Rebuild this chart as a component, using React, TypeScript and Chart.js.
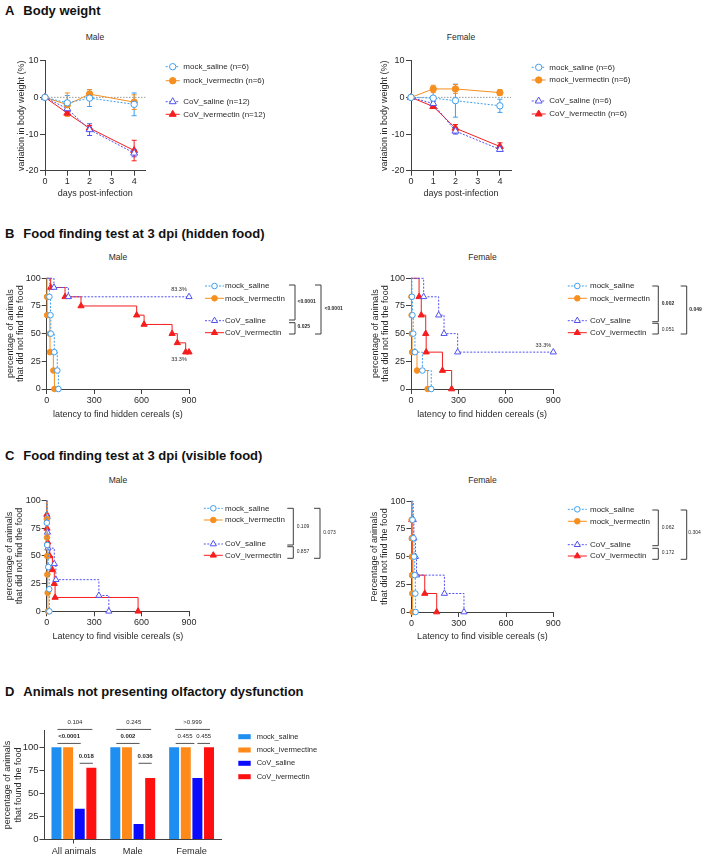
import React, { useEffect, useRef } from 'react';
import { Chart, registerables } from 'chart.js';

Chart.register(...registerables);

const FONT = '"Liberation Sans", Arial, Helvetica, sans-serif';
const AXIS = '#404040';
const INK = '#2a2a2a';

// ---------------- Panel A: body weight ----------------
const bwDays = [0, 1, 2, 4];
const bwDayTicks = [0, 1, 2, 3, 4];
const bwValueTicks = [-20, -10, 0, 10];

const bwMaleMockSaline = [0, -1.5, -0.2, -1.9];
const bwMaleMockSalineErr = [0, 2.0, 2.3, 3.1];
const bwMaleMockIver = [0, -2.0, 0.9, -1.3];
const bwMaleMockIverErr = [0, 3.2, 1.2, 2.0];
const bwMaleCovSaline = [0, -3.1, -8.8, -15.2];
const bwMaleCovSalineErr = [0, 0.6, 1.6, 1.0];
const bwMaleCovIver = [0, -4.3, -8.4, -14.5];
const bwMaleCovIverErr = [0, 0.5, 0.7, 2.8];

const bwFemaleMockSaline = [0, -0.2, -0.9, -2.3];
const bwFemaleMockSalineErr = [0, 2.5, 4.5, 1.8];
const bwFemaleMockIver = [0, 2.3, 2.3, 1.3];
const bwFemaleMockIverErr = [0, 1.0, 1.2, 0.8];
const bwFemaleCovSaline = [0, -1.7, -9.2, -14.2];
const bwFemaleCovSalineErr = [0, 0.6, 0.8, 0.5];
const bwFemaleCovIver = [0, -2.5, -8.4, -13.4];
const bwFemaleCovIverErr = [0, 0.4, 1.0, 1.0];

const bwMaleLegend = ['mock_saline (n=6)', 'mock_ivermectin (n=6)', 'CoV_saline (n=12)', 'CoV_ivermectin (n=12)'];
const bwFemaleLegend = ['mock_saline (n=6)', 'mock_ivermectin (n=6)', 'CoV_saline (n=6)', 'CoV_ivermectin (n=6)'];

// ---------------- Panels B and C: Kaplan-Meier curves ----------------
const kmTimeTicks = [0, 300, 600, 900];
const kmPctTicks = [0, 25, 50, 75, 100];
const kmLegend = ['mock_saline', 'mock_ivermectin', 'CoV_saline', 'CoV_ivermectin'];

// B male (hidden food)
const hidMaleMockSalineT = [0, 17, 24, 26, 48, 67, 74];
const hidMaleMockSalineS = [100, 83.3, 66.7, 50, 33.3, 16.7, 0];
const hidMaleMockIverT = [0, 2, 3, 20, 21, 42, 49];
const hidMaleMockIverS = [100, 83.3, 66.7, 50, 33.3, 16.7, 0];
const hidMaleCovSalineT = [0, 46, 137, 900];
const hidMaleCovSalineS = [100, 91.7, 83.3, 83.3];
const hidMaleCovIverT = [0, 25, 116, 217, 569, 616, 793, 826, 879, 900];
const hidMaleCovIverS = [100, 91.7, 83.3, 75, 66.7, 58.3, 50, 41.7, 33.3, 33.3];
const hidMaleP = ['<0.0001', '0.025', '<0.0001'];

// B female (hidden food)
const hidFemMockSalineT = [0, 6, 9, 14, 25, 72, 128];
const hidFemMockSalineS = [100, 83.3, 66.7, 50, 33.3, 16.7, 0];
const hidFemMockIverT = [0, 3, 4, 5, 7, 38, 105];
const hidFemMockIverS = [100, 83.3, 66.7, 50, 33.3, 16.7, 0];
const hidFemCovSalineT = [0, 80, 175, 209, 295, 900];
const hidFemCovSalineS = [100, 83.3, 66.7, 50, 33.3, 33.3];
const hidFemCovIverT = [0, 51, 65, 93, 96, 199, 257];
const hidFemCovIverS = [100, 83.3, 66.7, 50, 33.3, 16.7, 0];
const hidFemP = ['0.002', '0.051', '0.049'];

// C male (visible food)
const visMaleMockSalineT = [0, 1, 3, 10, 16, 17];
const visMaleMockSalineS = [100, 80, 60, 40, 20, 0];
const visMaleMockIverT = [0, 1, 2, 3, 4, 6, 8];
const visMaleMockIverS = [100, 83.3, 66.7, 50, 33.3, 16.7, 0];
const visMaleCovSalineT = [0, 3, 5, 8, 48, 58, 330, 393];
const visMaleCovSalineS = [100, 85.7, 71.4, 57.1, 42.9, 28.6, 14.3, 0];
const visMaleCovIverT = [0, 1, 2, 6, 19, 36, 48, 53, 578];
const visMaleCovIverS = [100, 87.5, 75, 62.5, 50, 37.5, 25, 12.5, 0];
const visMaleP = ['0.109', '0.857', '0.073'];

// C female (visible food)
const visFemMockSalineT = [0, 6, 12, 16, 20, 24, 26];
const visFemMockSalineS = [100, 83.3, 66.7, 50, 33.3, 16.7, 0];
const visFemMockIverT = [0, 1, 2, 3, 4, 5, 7];
const visFemMockIverS = [100, 83.3, 66.7, 50, 33.3, 16.7, 0];
const visFemCovSalineT = [0, 11, 15, 25, 32, 209, 333];
const visFemCovSalineS = [100, 83.3, 66.7, 50, 33.3, 16.7, 0];
const visFemCovIverT = [0, 2, 4, 6, 8, 84, 160];
const visFemCovIverS = [100, 83.3, 66.7, 50, 33.3, 16.7, 0];
const visFemP = ['0.062', '0.172', '0.304'];

// ---------------- Panel D: bars ----------------
const dCategories = ['All animals', 'Male', 'Female'];
const dLegend = ['mock_saline', 'mock_ivermectine', 'CoV_saline', 'CoV_ivermectin'];
const dMockSaline = [100, 100, 100];
const dMockIver = [100, 100, 100];
const dCovSaline = [33.3, 16.7, 66.7];
const dCovIver = [77.8, 66.7, 100];
const dValueTicks = [0, 25, 50, 75, 100];
const dSigTop = ['0.104', '0.245', '>0.999'];
const dSigMid = ['<0.0001', '0.002', '0.455'];
const dSigLow = ['0.018', '0.036', '0.455'];

// ---------------- styles ----------------
const STYLES = [
  { color: '#3f9ff0', point: 'circle', hollow: true, dash: [2, 1.5] },
  { color: '#f68f1f', point: 'circle', hollow: false, dash: [] as number[] },
  { color: '#5252f0', point: 'triangle', hollow: true, dash: [2, 1.5] },
  { color: '#f51d1d', point: 'triangle', hollow: false, dash: [] as number[] },
];
const BAR_COLORS = ['#1f8ef1', '#ff8a1a', '#0a0aff', '#ff1010'];

type Box = { cl: number; ct: number; cw: number; ch: number; L: number; T: number; R: number; B: number };

function padFor(b: Box, yW: number, xH: number) {
  return { left: b.L - b.cl - yW, top: b.T - b.ct, right: b.cl + b.cw - b.R, bottom: b.ct + b.ch - b.B - xH };
}
const setTicks = (vals: number[]) => (s: any) => {
  s.ticks = vals.map((v) => ({ value: v }));
};
const axisBase = (tl: number) => ({
  border: { display: true, color: AXIS, width: 1 },
  grid: { display: true, drawOnChartArea: false, drawTicks: true, tickLength: tl, color: AXIS, lineWidth: 1 },
});

function drawMarker(ctx: CanvasRenderingContext2D, st: any, x: number, y: number, rc: number, rt: number) {
  ctx.beginPath();
  if (st.point === 'circle') {
    ctx.arc(x, y, rc, 0, Math.PI * 2);
  } else {
    ctx.moveTo(x, y - rt);
    ctx.lineTo(x + rt * 0.866, y + rt * 0.5);
    ctx.lineTo(x - rt * 0.866, y + rt * 0.5);
    ctx.closePath();
  }
  ctx.fillStyle = st.hollow ? '#ffffff' : st.color;
  ctx.fill();
  ctx.strokeStyle = st.color;
  ctx.lineWidth = 1;
  ctx.stroke();
}

function drawLegend(ctx: CanvasRenderingContext2D, box: Box, labels: string[], mx: number, tx: number, ys: number[], half: number, rc: number, rt: number, size: number) {
  labels.forEach((lab, i) => {
    const st = STYLES[i];
    const x = mx - box.cl;
    const y = ys[i] - box.ct;
    ctx.save();
    ctx.strokeStyle = st.color;
    ctx.lineWidth = 1;
    ctx.setLineDash(st.dash);
    ctx.beginPath();
    ctx.moveTo(x - half, y);
    ctx.lineTo(x + half, y);
    ctx.stroke();
    ctx.setLineDash([]);
    drawMarker(ctx, st, x, y, rc, rt);
    ctx.fillStyle = INK;
    ctx.font = `${size}px ${FONT}`;
    ctx.textBaseline = 'middle';
    ctx.textAlign = 'left';
    ctx.fillText(lab, tx - box.cl, y);
    ctx.restore();
  });
}

type Bracket = { x: number; y1: number; y2: number; w: number; label: string; lx: number; ly: number; bold: boolean };

function drawBrackets(ctx: CanvasRenderingContext2D, box: Box, br: Bracket[]) {
  ctx.save();
  br.forEach((b) => {
    const x = b.x - box.cl;
    ctx.strokeStyle = '#3c3c3c';
    ctx.lineWidth = 1;
    ctx.beginPath();
    ctx.moveTo(x - b.w, b.y1 - box.ct);
    ctx.lineTo(x, b.y1 - box.ct);
    ctx.lineTo(x, b.y2 - box.ct);
    ctx.lineTo(x - b.w, b.y2 - box.ct);
    ctx.stroke();
    ctx.fillStyle = INK;
    ctx.font = `${b.bold ? 'bold ' : ''}5px ${FONT}`;
    ctx.textAlign = 'left';
    ctx.textBaseline = 'middle';
    ctx.fillText(b.label, b.lx - box.cl, b.ly - box.ct);
  });
  ctx.restore();
}

// ---------------- chart config builders ----------------
function bodyWeightConfig(box: Box, series: number[][], errs: number[][], labels: string[], leg: { mx: number; tx: number; ys: number[] }, yTitleX: number, xTitleY: number) {
  const lh = 10.8;
  const yW = box.L - box.cl;
  const xH = xTitleY + lh / 2 - box.B;
  return {
    type: 'line',
    data: {
      datasets: series.map((vals, i) => ({
        label: labels[i],
        data: bwDays.map((d, j) => ({ x: d, y: vals[j] })),
        borderColor: STYLES[i].color,
        borderWidth: 1,
        borderDash: STYLES[i].dash,
        pointStyle: STYLES[i].point,
        pointRadius: STYLES[i].point === 'circle' ? 3.2 : 4,
        pointBackgroundColor: STYLES[i].hollow ? '#ffffff' : STYLES[i].color,
        pointBorderColor: STYLES[i].color,
        pointBorderWidth: 1,
        fill: false,
        tension: 0,
        clip: false,
      })),
    },
    options: {
      responsive: false,
      animation: false,
      events: [],
      layout: { padding: padFor(box, yW, xH) },
      scales: {
        x: {
          type: 'linear', min: 0, max: 4.5, ...axisBase(5),
          afterBuildTicks: setTicks(bwDayTicks),
          afterFit: (s: any) => { s.height = xH; },
          ticks: { font: { family: FONT, size: 9 }, color: INK, padding: 0, maxRotation: 0, autoSkip: false },
          title: { display: true, text: 'days post-infection', font: { family: FONT, size: 9, lineHeight: 1.2 }, color: INK, padding: { top: 0, bottom: 0 } },
        },
        y: {
          type: 'linear', min: -20, max: 10, ...axisBase(5),
          afterBuildTicks: setTicks(bwValueTicks),
          afterFit: (s: any) => { s.width = yW; },
          ticks: { font: { family: FONT, size: 9 }, color: INK, padding: 1.5, autoSkip: false },
          title: { display: true, text: 'variation in body weight (%)', font: { family: FONT, size: 9, lineHeight: 1.2 }, color: INK, padding: { top: yTitleX - box.cl - lh / 2, bottom: 0 } },
        },
      },
      plugins: { legend: { display: false }, tooltip: { enabled: false } },
    },
    plugins: [
      {
        id: 'bwDecor',
        beforeDatasetsDraw(chart: any) {
          const { ctx, chartArea: a } = chart;
          const y = chart.scales.y;
          const y0 = y.getPixelForValue(0);
          ctx.save();
          ctx.strokeStyle = '#9a9a9a';
          ctx.lineWidth = 1;
          ctx.setLineDash([1.5, 1.5]);
          ctx.beginPath();
          ctx.moveTo(a.left, y0);
          ctx.lineTo(a.right, y0);
          ctx.stroke();
          ctx.setLineDash([]);
          errs.forEach((e, i) => {
            const meta = chart.getDatasetMeta(i);
            ctx.strokeStyle = STYLES[i].color;
            e.forEach((err, j) => {
              if (!err) return;
              const v = series[i][j];
              const px = meta.data[j].x;
              const top = y.getPixelForValue(v + err);
              const bot = y.getPixelForValue(v - err);
              ctx.beginPath();
              ctx.moveTo(px, top); ctx.lineTo(px, bot);
              ctx.moveTo(px - 2.5, top); ctx.lineTo(px + 2.5, top);
              ctx.moveTo(px - 2.5, bot); ctx.lineTo(px + 2.5, bot);
              ctx.stroke();
            });
          });
          ctx.restore();
        },
        afterDraw(chart: any) {
          drawLegend(chart.ctx, box, labels, leg.mx, leg.tx, leg.ys, 7, 3.2, 4, 8);
        },
      },
    ],
  };
}

type KmSpec = {
  box: Box;
  series: { t: number[]; s: number[] }[];
  yTitle: string[];
  yTitleX: number;
  yLH: number;
  xTitle: string;
  xTitleY: number;
  xTickPad: number;
  leg: { mx: number; tx: number; ys: number[] };
  brackets: Bracket[];
  pct: { series: number; index: number; dx: number; dy: number; text: string }[];
};

function kmConfig(p: KmSpec) {
  const box = p.box;
  const yW = box.L - box.cl;
  const xLH = 10.8;
  const xH = p.xTitleY + xLH / 2 - box.B;
  return {
    type: 'line',
    data: {
      datasets: p.series.map((sr, i) => ({
        label: kmLegend[i],
        data: sr.t.map((t, j) => ({ x: t, y: sr.s[j] })),
        stepped: 'before',
        borderColor: STYLES[i].color,
        borderWidth: 1,
        borderDash: STYLES[i].dash,
        pointStyle: STYLES[i].point,
        pointRadius: sr.t.map((_, j) => (j === 0 ? 0 : STYLES[i].point === 'circle' ? 2.8 : 3.6)),
        pointBackgroundColor: STYLES[i].hollow ? '#ffffff' : STYLES[i].color,
        pointBorderColor: STYLES[i].color,
        pointBorderWidth: 1,
        fill: false,
        tension: 0,
        clip: false,
      })),
    },
    options: {
      responsive: false,
      animation: false,
      events: [],
      layout: { padding: padFor(box, yW, xH) },
      scales: {
        x: {
          type: 'linear', min: 0, max: 900, ...axisBase(5),
          afterBuildTicks: setTicks(kmTimeTicks),
          afterFit: (s: any) => { s.height = xH; },
          ticks: { font: { family: FONT, size: 9 }, color: INK, padding: p.xTickPad, maxRotation: 0, autoSkip: false },
          title: { display: true, text: p.xTitle, font: { family: FONT, size: 9, lineHeight: 1.2 }, color: INK, padding: { top: 0, bottom: 0 } },
        },
        y: {
          type: 'linear', min: 0, max: 100, ...axisBase(5),
          afterBuildTicks: setTicks(kmPctTicks),
          afterFit: (s: any) => { s.width = yW; },
          ticks: { font: { family: FONT, size: 9 }, color: INK, padding: 1, autoSkip: false },
          title: { display: true, text: p.yTitle, font: { family: FONT, size: 9, lineHeight: p.yLH / 9 }, color: INK, padding: { top: p.yTitleX - box.cl - p.yLH / 2, bottom: 0 } },
        },
      },
      plugins: { legend: { display: false }, tooltip: { enabled: false } },
    },
    plugins: [
      {
        id: 'kmDecor',
        afterDraw(chart: any) {
          const ctx = chart.ctx;
          drawLegend(ctx, box, kmLegend, p.leg.mx, p.leg.tx, p.leg.ys, 9.5, 2.8, 3.6, 8);
          drawBrackets(ctx, box, p.brackets);
          ctx.save();
          ctx.fillStyle = INK;
          ctx.font = `5.5px ${FONT}`;
          ctx.textAlign = 'center';
          ctx.textBaseline = 'middle';
          p.pct.forEach((l) => {
            const el = chart.getDatasetMeta(l.series).data[l.index];
            ctx.fillText(l.text, el.x + l.dx, el.y + l.dy);
          });
          ctx.restore();
        },
      },
    ],
  };
}

function barConfig(box: Box) {
  const yW = box.L - box.cl;
  const xH = 16;
  const yLH = 11;
  const series = [dMockSaline, dMockIver, dCovSaline, dCovIver];
  return {
    type: 'bar',
    data: {
      labels: dCategories,
      datasets: series.map((vals, i) => ({
        label: dLegend[i],
        data: vals,
        backgroundColor: BAR_COLORS[i],
        borderWidth: 0,
        categoryPercentage: 0.79,
        barPercentage: 0.86,
      })),
    },
    options: {
      responsive: false,
      animation: false,
      events: [],
      layout: { padding: padFor(box, yW, xH) },
      scales: {
        x: {
          border: { display: true, color: AXIS, width: 1 },
          grid: { display: true, drawOnChartArea: false, drawTicks: true, tickLength: 4, offset: false, color: (c: any) => (c.index === 0 ? AXIS : 'rgba(0,0,0,0)') },
          afterFit: (s: any) => { s.height = xH; },
          ticks: { font: { family: FONT, size: 9.2 }, color: INK, padding: 2, maxRotation: 0, autoSkip: false },
        },
        y: {
          type: 'linear', min: 0, max: 118, ...axisBase(5),
          afterBuildTicks: setTicks(dValueTicks),
          afterFit: (s: any) => { s.width = yW; },
          ticks: { font: { family: FONT, size: 9.5 }, color: INK, padding: 1, autoSkip: false },
          title: { display: true, text: ['percentage of animals', 'that found the food'], font: { family: FONT, size: 9, lineHeight: yLH / 9 }, color: INK, padding: { top: 7.3 - box.cl - yLH / 2, bottom: 0 } },
        },
      },
      plugins: { legend: { display: false }, tooltip: { enabled: false } },
    },
    plugins: [
      {
        id: 'barDecor',
        afterDraw(chart: any) {
          const ctx = chart.ctx;
          const y = chart.scales.y;
          const top100 = y.getPixelForValue(100);
          const lvTop = top100 - 17.7;
          const lvMid = top100 - 3.7;
          const lvLow = y.getPixelForValue(82.5);
          ctx.save();
          const seg = (x1: number, x2: number, ly: number, text: string, bold: boolean) => {
            ctx.strokeStyle = '#555';
            ctx.lineWidth = 1;
            ctx.beginPath();
            ctx.moveTo(x1, ly);
            ctx.lineTo(x2, ly);
            ctx.stroke();
            ctx.fillStyle = INK;
            ctx.font = `${bold ? 'bold ' : ''}6px ${FONT}`;
            ctx.textAlign = 'center';
            ctx.textBaseline = 'middle';
            ctx.fillText(text, (x1 + x2) / 2, ly - 6.7);
          };
          dCategories.forEach((_, j) => {
            const c = [0, 1, 2, 3].map((k) => chart.getDatasetMeta(k).data[j].x);
            seg(c[0] + 1, c[3] + 1, lvTop, dSigTop[j], false);
            if (j < 2) {
              seg(c[0] + 1, c[2] + 1, lvMid, dSigMid[j], true);
              seg(c[2], c[3] + 1.5, lvLow, dSigLow[j], true);
            } else {
              seg(c[0] + 1.5, c[2] - 3, lvMid, dSigMid[j], false);
              seg(c[2], c[3] + 1, lvMid, dSigLow[j], false);
            }
          });
          // legend
          const ys = [736.7, 750, 763.3, 776.7];
          dLegend.forEach((lab, i) => {
            const yy = ys[i] - box.ct;
            ctx.fillStyle = BAR_COLORS[i];
            ctx.fillRect(238.3 - box.cl, yy - 2.5, 12.4, 5);
            ctx.fillStyle = INK;
            ctx.font = `7.5px ${FONT}`;
            ctx.textAlign = 'left';
            ctx.textBaseline = 'middle';
            ctx.fillText(lab, 256.7 - box.cl, yy);
          });
          ctx.restore();
        },
      },
    ],
  };
}

// ---------------- components ----------------
function ChartCanvas({ box, make }: { box: Box; make: () => any }) {
  const ref = useRef<HTMLCanvasElement | null>(null);
  useEffect(() => {
    const chart = new Chart(ref.current as HTMLCanvasElement, make());
    return () => chart.destroy();
  }, []);
  return (
    <canvas
      ref={ref}
      width={box.cw}
      height={box.ch}
      style={{ position: 'absolute', left: box.cl, top: box.ct, width: box.cw, height: box.ch }}
    />
  );
}

function Txt({ x, y, size, bold, center, children, color }: any) {
  return (
    <div
      style={{
        position: 'absolute',
        left: x,
        top: y,
        transform: center ? 'translate(-50%,-50%)' : 'translate(0,-50%)',
        fontFamily: FONT,
        fontSize: size,
        fontWeight: bold ? 700 : 400,
        lineHeight: 1,
        whiteSpace: 'nowrap',
        color: color || INK,
      }}
    >
      {children}
    </div>
  );
}

const boxAM: Box = { cl: 0, ct: 45, cw: 350, ch: 160, L: 45, T: 60.7, R: 145.3, B: 170.7 };
const boxAF: Box = { cl: 350, ct: 45, cw: 359, ch: 160, L: 411, T: 60.7, R: 511, B: 170.7 };
const boxBM: Box = { cl: 0, ct: 265, cw: 350, ch: 160, L: 46.7, T: 278.3, R: 189, B: 389 };
const boxBF: Box = { cl: 350, ct: 265, cw: 359, ch: 160, L: 411, T: 278.3, R: 553.3, B: 389 };
const boxCM: Box = { cl: 0, ct: 490, cw: 350, ch: 160, L: 46.7, T: 500.7, R: 189, B: 611.3 };
const boxCF: Box = { cl: 350, ct: 490, cw: 359, ch: 160, L: 411.5, T: 501.3, R: 553.3, B: 612 };
const boxD: Box = { cl: 0, ct: 712, cw: 350, ch: 146, L: 44.5, T: 730.5, R: 221, B: 839.5 };

const KM_Y = ['percentage of animals', 'that did not find the food'];
const KM_Y_C_F = ['Percentage of animals', 'that did not find the food'];

export default function App() {
  return (
    <div style={{ position: 'absolute', left: 0, top: 0, width: 709, height: 858, background: '#fff', overflow: 'hidden' }}>
      {/* Panel headers */}
      <Txt x={5} y={10} size={13} bold color="#111">A</Txt>
      <Txt x={23.3} y={10} size={13} bold color="#111">Body weight</Txt>
      <Txt x={5} y={232.7} size={13} bold color="#111">B</Txt>
      <Txt x={23.3} y={232.7} size={13} bold color="#111">Food finding test at 3 dpi (hidden food)</Txt>
      <Txt x={5} y={455} size={13} bold color="#111">C</Txt>
      <Txt x={23.3} y={455} size={13} bold color="#111">Food finding test at 3 dpi (visible food)</Txt>
      <Txt x={5} y={691} size={13} bold color="#111">D</Txt>
      <Txt x={23.3} y={691} size={13} bold color="#111">Animals not presenting olfactory dysfunction</Txt>

      <Txt x={95} y={37} size={8.5} center>Male</Txt>
      <Txt x={461} y={37} size={8.5} center>Female</Txt>
      <Txt x={118} y={257} size={8.5} center>Male</Txt>
      <Txt x={482.5} y={257} size={8.5} center>Female</Txt>
      <Txt x={118} y={480} size={8.5} center>Male</Txt>
      <Txt x={482.5} y={480} size={8.5} center>Female</Txt>

      <ChartCanvas
        box={boxAM}
        make={() =>
          bodyWeightConfig(
            boxAM,
            [bwMaleMockSaline, bwMaleMockIver, bwMaleCovSaline, bwMaleCovIver],
            [bwMaleMockSalineErr, bwMaleMockIverErr, bwMaleCovSalineErr, bwMaleCovIverErr],
            bwMaleLegend,
            { mx: 172.7, tx: 183.3, ys: [66.7, 80.7, 101.7, 114.3] },
            21.7,
            194
          )
        }
      />
      <ChartCanvas
        box={boxAF}
        make={() =>
          bodyWeightConfig(
            boxAF,
            [bwFemaleMockSaline, bwFemaleMockIver, bwFemaleCovSaline, bwFemaleCovIver],
            [bwFemaleMockSalineErr, bwFemaleMockIverErr, bwFemaleCovSalineErr, bwFemaleCovIverErr],
            bwFemaleLegend,
            { mx: 538.7, tx: 549.3, ys: [67.3, 80, 101, 114] },
            385,
            194
          )
        }
      />
      <ChartCanvas
        box={boxBM}
        make={() =>
          kmConfig({
            box: boxBM,
            series: [
              { t: hidMaleMockSalineT, s: hidMaleMockSalineS },
              { t: hidMaleMockIverT, s: hidMaleMockIverS },
              { t: hidMaleCovSalineT, s: hidMaleCovSalineS },
              { t: hidMaleCovIverT, s: hidMaleCovIverS },
            ],
            yTitle: KM_Y,
            yTitleX: 10.7,
            yLH: 9.6,
            xTitle: 'latency to find hidden cereals (s)',
            xTitleY: 415,
            xTickPad: 1.6,
            leg: { mx: 214.5, tx: 225, ys: [286, 298.3, 320.7, 332.7] },
            brackets: [
              { x: 295, y1: 285, y2: 320, w: 6, label: hidMaleP[0], lx: 297.5, ly: 302, bold: true },
              { x: 295, y1: 322.7, y2: 334, w: 6, label: hidMaleP[1], lx: 297.5, ly: 327, bold: true },
              { x: 321, y1: 285, y2: 334, w: 6, label: hidMaleP[2], lx: 324.5, ly: 308.3, bold: true },
            ],
            pct: [
              { series: 2, index: 3, dx: -10, dy: -7.5, text: '83.3%' },
              { series: 3, index: 9, dx: -10, dy: 7, text: '33.3%' },
            ],
          })
        }
      />
      <ChartCanvas
        box={boxBF}
        make={() =>
          kmConfig({
            box: boxBF,
            series: [
              { t: hidFemMockSalineT, s: hidFemMockSalineS },
              { t: hidFemMockIverT, s: hidFemMockIverS },
              { t: hidFemCovSalineT, s: hidFemCovSalineS },
              { t: hidFemCovIverT, s: hidFemCovIverS },
            ],
            yTitle: KM_Y,
            yTitleX: 375.5,
            yLH: 9.6,
            xTitle: 'latency to find hidden cereals (s)',
            xTitleY: 415,
            xTickPad: 1.6,
            leg: { mx: 577.3, tx: 590, ys: [286, 298.3, 320.7, 332.7] },
            brackets: [
              { x: 658.3, y1: 286, y2: 321.7, w: 6, label: hidFemP[0], lx: 661.7, ly: 304, bold: true },
              { x: 658.3, y1: 323.3, y2: 334, w: 6, label: hidFemP[1], lx: 661.7, ly: 329.3, bold: false },
              { x: 686.7, y1: 286, y2: 334, w: 6, label: hidFemP[2], lx: 689.3, ly: 310, bold: true },
            ],
            pct: [{ series: 2, index: 5, dx: -10, dy: -7, text: '33.3%' }],
          })
        }
      />
      <ChartCanvas
        box={boxCM}
        make={() =>
          kmConfig({
            box: boxCM,
            series: [
              { t: visMaleMockSalineT, s: visMaleMockSalineS },
              { t: visMaleMockIverT, s: visMaleMockIverS },
              { t: visMaleCovSalineT, s: visMaleCovSalineS },
              { t: visMaleCovIverT, s: visMaleCovIverS },
            ],
            yTitle: KM_Y,
            yTitleX: 9.5,
            yLH: 10.3,
            xTitle: 'Latency to find visible cereals (s)',
            xTitleY: 637,
            xTickPad: 1.3,
            leg: { mx: 213.3, tx: 225, ys: [508.3, 520, 544, 555.3] },
            brackets: [
              { x: 293.3, y1: 508.3, y2: 545, w: 6, label: visMaleP[0], lx: 296.7, ly: 526.7, bold: false },
              { x: 293.3, y1: 546.7, y2: 558.3, w: 6, label: visMaleP[1], lx: 296.7, ly: 551.7, bold: false },
              { x: 320, y1: 508.3, y2: 558.3, w: 6, label: visMaleP[2], lx: 323.3, ly: 532.3, bold: false },
            ],
            pct: [],
          })
        }
      />
      <ChartCanvas
        box={boxCF}
        make={() =>
          kmConfig({
            box: boxCF,
            series: [
              { t: visFemMockSalineT, s: visFemMockSalineS },
              { t: visFemMockIverT, s: visFemMockIverS },
              { t: visFemCovSalineT, s: visFemCovSalineS },
              { t: visFemCovIverT, s: visFemCovIverS },
            ],
            yTitle: KM_Y_C_F,
            yTitleX: 374.3,
            yLH: 10.5,
            xTitle: 'Latency to find visible cereals (s)',
            xTitleY: 637,
            xTickPad: 1.3,
            leg: { mx: 577.3, tx: 590, ys: [509.3, 521.3, 544.7, 556] },
            brackets: [
              { x: 658.3, y1: 510, y2: 545.7, w: 6, label: visFemP[0], lx: 661.7, ly: 527.3, bold: false },
              { x: 658.3, y1: 548.3, y2: 559.3, w: 6, label: visFemP[1], lx: 661.7, ly: 552.7, bold: false },
              { x: 686.7, y1: 510, y2: 559.3, w: 6, label: visFemP[2], lx: 688.3, ly: 532.7, bold: false },
            ],
            pct: [],
          })
        }
      />
      <ChartCanvas box={boxD} make={() => barConfig(boxD)} />
    </div>
  );
}
